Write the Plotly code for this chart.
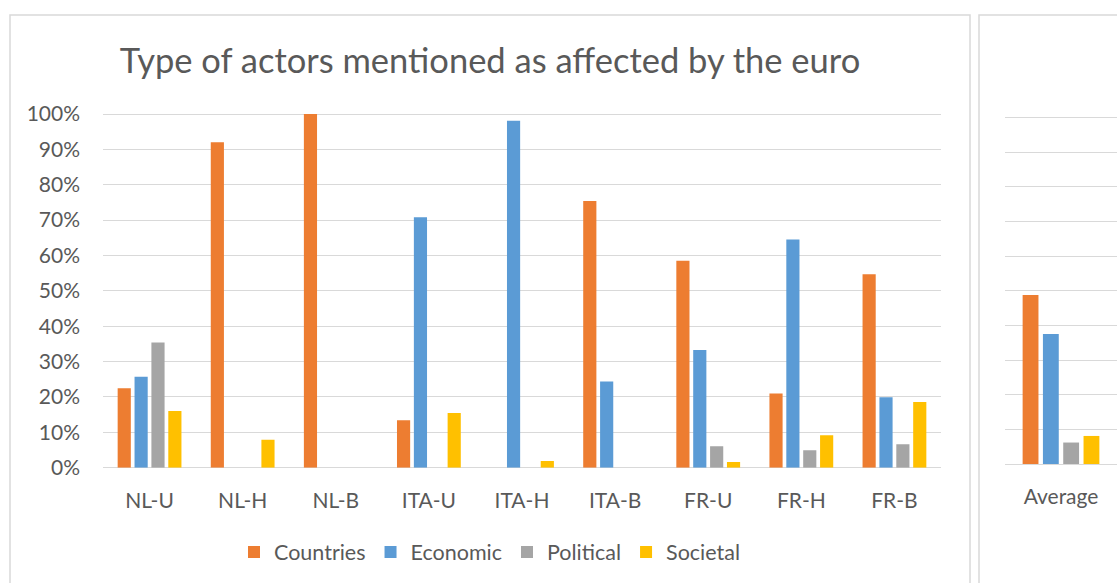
import plotly.graph_objects as go

W, H = 1117, 583

categories = ["NL-U", "NL-H", "NL-B", "ITA-U", "ITA-H", "ITA-B", "FR-U", "FR-H", "FR-B"]
series_names = ["Countries", "Economic", "Political", "Societal"]
countries = [22.5, 92.0, 100.0, 13.4, 0.0, 75.4, 58.5, 21.0, 54.7]
economic = [25.7, 0.0, 0.0, 70.8, 98.1, 24.4, 33.3, 64.5, 19.9]
political = [35.4, 0.0, 0.0, 0.0, 0.0, 0.0, 6.1, 4.9, 6.6]
societal = [16.0, 7.9, 0.0, 15.5, 1.9, 0.0, 1.6, 9.2, 18.6]
average_label = ["Average"]
average = [48.8, 37.5, 6.2, 8.1]
y_ticks = [0, 10, 20, 30, 40, 50, 60, 70, 80, 90, 100]
y_tick_labels = ["0%", "10%", "20%", "30%", "40%", "50%", "60%", "70%", "80%", "90%", "100%"]

colors = ["#ED7D31", "#5B9BD5", "#A5A5A5", "#FFC000"]
TEXT = "#595959"
GRID = "#D9D9D9"
FONT = "Lato"


def px_x(p):
    return p / W


def px_y(p):
    return 1 - p / H


fig = go.Figure()
main_series = [countries, economic, political, societal]
for name, vals, col in zip(series_names, main_series, colors):
    fig.add_trace(go.Bar(
        x=categories, y=vals, name=name, marker_color=col,
        marker_line_width=0, legendgroup=name,
        xaxis="x", yaxis="y",
    ))
for name, val, col in zip(series_names, average, colors):
    fig.add_trace(go.Bar(
        x=average_label, y=[val], name=name, marker_color=col,
        marker_line_width=0, legendgroup=name, showlegend=False,
        xaxis="x2", yaxis="y2",
    ))

axis_font = dict(family=FONT, size=21, color=TEXT)

# value ranges run slightly past 100 so the 100% gridline is kept inside the plot area
fig.update_layout(
    template="none",
    width=W, height=H,
    margin=dict(l=0, r=0, t=0, b=0, pad=0),
    paper_bgcolor="white", plot_bgcolor="white",
    barmode="group", bargap=0.275, bargroupgap=0.22,
    font=dict(family=FONT, color=TEXT),
    title=dict(
        text="Type of actors mentioned as affected by the euro",
        x=px_x(490), xanchor="center",
        y=px_y(61), yanchor="middle", yref="paper", automargin=False,
        font=dict(family=FONT, size=34.5, color=TEXT),
    ),
    xaxis=dict(
        domain=[px_x(103), px_x(941)], anchor="y", automargin=False,
        tickfont=axis_font, showgrid=False, zeroline=False,
        showline=False, ticks="", ticklabelstandoff=18,
    ),
    yaxis=dict(
        domain=[px_y(467.7), px_y(110.5)], anchor="x", automargin=False,
        range=[0, 101], tickmode="array", tickvals=y_ticks, ticktext=y_tick_labels,
        tickfont=axis_font, showgrid=True, gridcolor=GRID, gridwidth=1.3,
        zeroline=True, zerolinecolor=GRID, zerolinewidth=1.3,
        showline=False, ticks="", ticklabelstandoff=22,
    ),
    xaxis2=dict(
        domain=[px_x(1005), 1.0], anchor="y2", automargin=False,
        tickfont=axis_font, showgrid=False, zeroline=False,
        showline=False, ticks="", ticklabelstandoff=18,
    ),
    yaxis2=dict(
        domain=[px_y(464), px_y(114.2)], anchor="x2", automargin=False,
        range=[0, 101], tickmode="array", tickvals=y_ticks, showticklabels=False,
        showgrid=True, gridcolor=GRID, gridwidth=1.3,
        zeroline=True, zerolinecolor=GRID, zerolinewidth=1.3,
        showline=False, ticks="",
    ),
    legend=dict(
        orientation="h", x=px_x(490), xanchor="center",
        y=px_y(552), yanchor="middle",
        font=dict(family=FONT, size=21.5, color=TEXT),
        bgcolor="rgba(0,0,0,0)", borderwidth=0, itemclick=False,
    ),
    shapes=[
        dict(type="rect", xref="paper", yref="paper",
             x0=px_x(10), x1=px_x(970), y0=px_y(600), y1=px_y(15),
             line=dict(color=GRID, width=1.5), fillcolor="rgba(0,0,0,0)", layer="below"),
        dict(type="rect", xref="paper", yref="paper",
             x0=px_x(979), x1=px_x(1140), y0=px_y(600), y1=px_y(15),
             line=dict(color=GRID, width=1.5), fillcolor="rgba(0,0,0,0)", layer="below"),
    ],
)

fig.write_html("out.html")
